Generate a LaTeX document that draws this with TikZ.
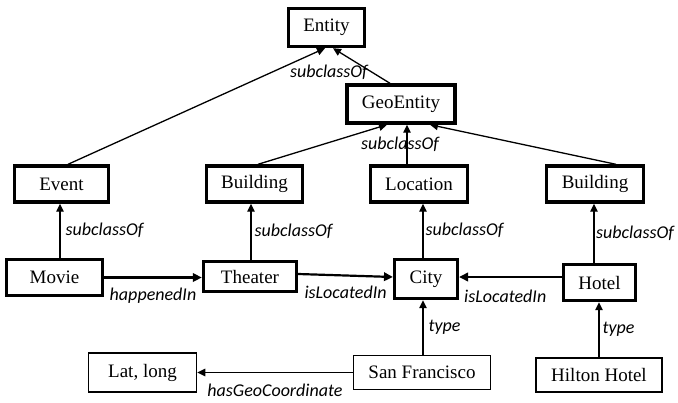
\documentclass[tikz,border=0pt]{standalone}
\usepackage{fontspec}
\setmainfont{Liberation Serif}
\newfontfamily\lblfont{Carlito}
\usetikzlibrary{arrows.meta}

\tikzset{
  cls/.style={draw, line width=3.4pt, minimum height=36pt, inner xsep=15pt,
              font=\fontsize{19}{21}\selectfont},
  inst/.style={draw, line width=1.6pt, minimum height=34pt, inner xsep=15pt,
               font=\fontsize{19}{21}\selectfont},
  arr/.style={line width=1.3pt, -{Triangle[length=8pt,width=7.5pt]}},
  arrb/.style={line width=2.2pt, -{Triangle[length=9pt,width=8.5pt]}},
  lbl/.style={font=\lblfont\itshape\fontsize{18}{20}\selectfont, inner sep=1pt},
}

\begin{document}
\begin{tikzpicture}[x=1pt,y=-1pt]
  \useasboundingbox (0,0) rectangle (678,402);
  % classes
  \node[cls, minimum height=38pt] (ent) at (326.5,27.5) {Entity};
  \node[cls, minimum height=38pt] (geo) at (401,104) {GeoEntity};
  \node[cls, minimum width=94pt] (ev) at (61.5,184) {Event};
  \node[cls] (bld) at (254.5,184) {Building};
  \node[cls] (loc) at (419,184) {Location};
  \node[cls] (bldb) at (595,184) {Building};
  \node[cls, minimum width=96pt] (mov) at (54.5,277.5) {Movie};
  \node[cls, minimum width=93pt, minimum height=30pt] (thr) at (250,276.5) {Theater};
  \node[cls, minimum height=39pt] (city) at (426,279) {City};
  \node[cls] (hot) at (599.5,282.5) {Hotel};
  % instances
  \node[inst, minimum width=108pt, minimum height=39pt] (ll) at (142.5,372.5) {Lat, long};
  \node[inst] (sf) at (422,372.5) {San Francisco};
  \node[inst] (hil) at (599,375) {Hilton Hotel};

  % subclass links
  \draw[arr] ([xshift=6.5pt]ev.north) -- ([xshift=-1.5pt]ent.south);
  \draw[arr] ([xshift=-11pt]geo.north) -- ([xshift=6.5pt]ent.south)
             node[lbl, pos=0.31, left=3pt] {subclassOf};
  \draw[arr] ([xshift=3.5pt]bld.north) -- ([xshift=-14pt]geo.south);
  \draw[arr] ([xshift=-12pt]loc.north) -- ([xshift=6pt]geo.south)
             node[lbl, midway, xshift=-7pt] {subclassOf};
  \draw[arr] ([xshift=21pt]bldb.north) -- ([xshift=29pt]geo.south);
  \draw[arr] ([xshift=5.5pt]mov.north) -- ([xshift=5.5pt]mov.north |- ev.south)
             node[lbl, midway, right=4pt] {subclassOf};
  \draw[arr] ([xshift=1pt]thr.north) -- ([xshift=1pt]thr.north |- bld.south)
             node[lbl, midway, right=2pt] {subclassOf};
  \draw[arr] ([xshift=-3pt]city.north) -- ([xshift=-3pt]city.north |- loc.south)
             node[lbl, midway, right=1pt] {subclassOf};
  \draw[arr] ([xshift=-5.5pt]hot.north) -- ([xshift=-5.5pt]hot.north |- bldb.south)
             node[lbl, midway, right=0.5pt] {subclassOf};

  % relations
  \draw[arrb] (mov.east) -- (mov.east -| thr.west)
              node[lbl, midway, below=8pt] {happenedIn};
  \draw[arrb] ([yshift=2.5pt]thr.east) -- ([yshift=2pt]city.west)
              node[lbl, midway, below=8pt] {isLocatedIn};
  \draw[arrb] ([yshift=5.5pt]hot.west) -- ([yshift=5.5pt]hot.west -| city.east)
              node[lbl, pos=0.55, below=11pt] {isLocatedIn};
  \draw[arr] ([xshift=1pt]sf.north) -- ([xshift=1pt]sf.north |- city.south)
             node[lbl, midway, right=4pt] {type};
  \draw[arr] (hil.north) -- (hil.north |- hot.south)
             node[lbl, midway, right=2pt] {type};
  \draw[arr] (sf.west) -- (sf.west -| ll.east)
             node[lbl, midway, below=10pt] {hasGeoCoordinate};
\end{tikzpicture}
\end{document}
